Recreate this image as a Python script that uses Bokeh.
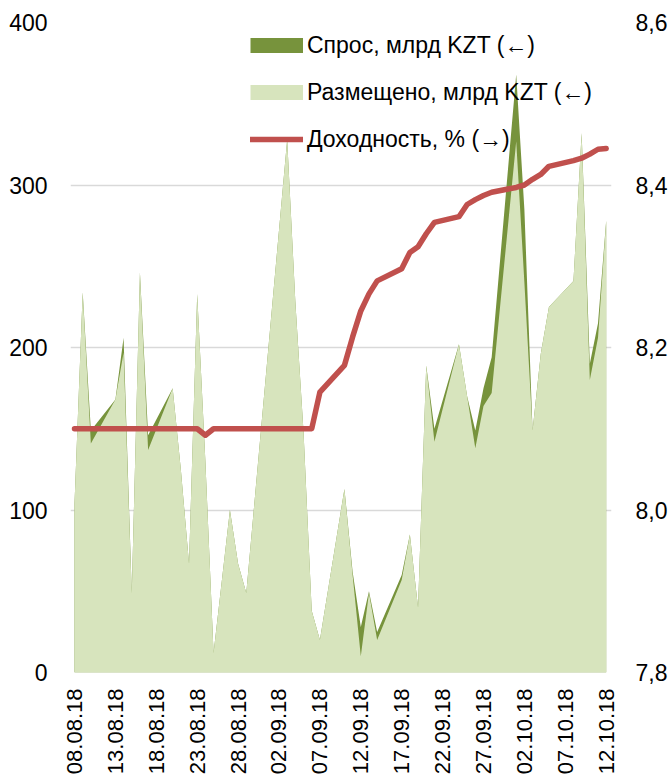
import math
import pandas as pd
from bokeh.plotting import figure
from bokeh.models import (Range1d, LinearAxis, FixedTicker, DatetimeTickFormatter,
                          CustomJSTickFormatter, Legend, LegendItem, ColumnDataSource)
from bokeh.embed import file_html
from bokeh.resources import INLINE

# ---- data ----
dates = ["08.08.18", "09.08.18", "10.08.18", "13.08.18", "14.08.18", "15.08.18",
         "16.08.18", "17.08.18", "20.08.18", "21.08.18", "22.08.18", "23.08.18",
         "24.08.18", "25.08.18", "27.08.18", "28.08.18", "29.08.18", "03.09.18",
         "04.09.18", "05.09.18", "06.09.18", "07.09.18", "10.09.18", "11.09.18",
         "12.09.18", "13.09.18", "14.09.18", "17.09.18", "18.09.18", "19.09.18",
         "20.09.18", "21.09.18", "24.09.18", "25.09.18", "26.09.18", "27.09.18",
         "28.09.18", "01.10.18", "02.10.18", "03.10.18", "04.10.18", "05.10.18",
         "08.10.18", "09.10.18", "10.10.18", "11.10.18", "12.10.18"]
placed = [104, 234, 141, 168, 197, 49, 246, 137, 175, 125, 67, 233,
          130, 12, 100, 67, 49, 328, 228, 148, 38, 20, 113, 60,
          10, 49, 20, 57, 85, 40, 189, 142, 202, 170, 138, 164,
          172, 327, 240, 149, 196, 225, 241, 332, 180, 206, 278]
demand = [104, 234, 149, 168, 206, 49, 246, 146, 175, 125, 67, 233,
          130, 12, 100, 67, 49, 328, 228, 148, 38, 20, 113, 62,
          28, 50, 25, 60, 85, 40, 189, 150, 202, 170, 149, 175,
          194, 368, 285, 149, 196, 225, 241, 332, 190, 215, 278]
yield_pct = [8.10, 8.10, 8.10, 8.10, 8.10, 8.10, 8.10, 8.10, 8.10, 8.10, 8.10, 8.10,
             8.092, 8.10, 8.10, 8.10, 8.10, 8.10, 8.10, 8.10, 8.10, 8.145, 8.178, 8.213,
             8.245, 8.266, 8.282, 8.297, 8.317, 8.324, 8.34, 8.354, 8.361, 8.376, 8.382, 8.387,
             8.391, 8.397, 8.40, 8.407, 8.413, 8.423, 8.43, 8.433, 8.438, 8.444, 8.445]
tick_dates = ["08.08.18", "13.08.18", "18.08.18", "23.08.18", "28.08.18", "02.09.18",
              "07.09.18", "12.09.18", "17.09.18", "22.09.18", "27.09.18", "02.10.18",
              "07.10.18", "12.10.18"]
left_ticks = [0, 100, 200, 300, 400]
right_ticks = [7.8, 8.0, 8.2, 8.4, 8.6]
labels = ["Спрос, млрд KZT (←)", "Размещено, млрд KZT (←)", "Доходность, % (→)"]

DARK = "#77933C"
LIGHT = "#D7E4BD"
RED = "#C0504D"

x = pd.to_datetime(dates, format="%d.%m.%y")
src = ColumnDataSource(dict(x=x, placed=placed, demand=demand, yld=yield_pct))

def ms(ts):
    return ts.value / 1e6

DAY = 86400000.0
x0 = ms(x[0])
FONT = "Liberation Sans"

p = figure(x_axis_type="datetime", frame_width=541, frame_height=650,
           min_border_left=70, min_border_right=57, min_border_top=22, min_border_bottom=104,
           x_range=Range1d(x0 - 0.49 * DAY, x0 + 65.65 * DAY),
           y_range=Range1d(0, 400),
           output_backend="svg", toolbar_location=None)
p.outline_line_color = None
p.xgrid.visible = False
p.ygrid.ticker = FixedTicker(ticks=left_ticks)
p.ygrid.grid_line_color = "#d9d9d9"
p.ygrid.grid_line_width = 1.5

p.varea(x="x", y1=0, y2="demand", source=src, fill_color=DARK)
p.varea(x="x", y1=0, y2="placed", source=src, fill_color=LIGHT)

p.extra_y_ranges = {"y2": Range1d(7.8, 8.6)}
r_y = p.line(x="x", y="yld", source=src, y_range_name="y2", line_color=RED,
             line_width=5.5, line_cap="round", line_join="round")

# legend swatches (renderers with no visible data, drawn only in the legend)
nan = float("nan")
sw_dem = p.line(x=[x0, x0], y=[nan, nan], line_color=DARK, line_width=15, line_cap="butt")
sw_pl = p.line(x=[x0, x0], y=[nan, nan], line_color=LIGHT, line_width=15, line_cap="butt")

# axes
p.yaxis.ticker = FixedTicker(ticks=left_ticks)
ax_r = LinearAxis(y_range_name="y2", ticker=FixedTicker(ticks=right_ticks),
                  formatter=CustomJSTickFormatter(code="return tick.toFixed(1).replace('.', ',');"))
p.add_layout(ax_r, "right")

fmt = "%d.%m.%y"
p.xaxis.ticker = FixedTicker(ticks=[ms(t) for t in pd.to_datetime(tick_dates, format="%d.%m.%y")])
p.xaxis.formatter = DatetimeTickFormatter(days=fmt, months=fmt, years=fmt, hours=fmt,
                                          hourmin=fmt, minutes=fmt, minsec=fmt, seconds=fmt,
                                          milliseconds=fmt, microseconds=fmt)
p.xaxis.major_label_orientation = math.pi / 2

for ax in [p.xaxis[0], p.yaxis[0], ax_r]:
    ax.axis_line_color = None
    ax.major_tick_line_color = None
    ax.minor_tick_line_color = None
    ax.major_tick_out = 0
    ax.major_label_text_font = FONT
    ax.major_label_text_font_size = "23px"
    ax.major_label_text_color = "black"
p.xaxis[0].major_label_text_font_size = "22px"
p.yaxis[0].major_label_standoff = 23
ax_r.major_label_standoff = 24
p.xaxis[0].major_label_standoff = 16

legend = Legend(items=[LegendItem(label=labels[0], renderers=[sw_dem]),
                       LegendItem(label=labels[1], renderers=[sw_pl]),
                       LegendItem(label=labels[2], renderers=[r_y])],
                location=(180, 518), orientation="vertical",
                padding=0, margin=0, spacing=17, glyph_width=53, glyph_height=30,
                label_standoff=4, label_height=30,
                label_text_font=FONT, label_text_font_size="23px",
                label_text_color="black", label_text_baseline="middle",
                border_line_color=None, background_fill_alpha=0)
p.add_layout(legend)

open("out.html", "w").write(file_html(p, INLINE))
